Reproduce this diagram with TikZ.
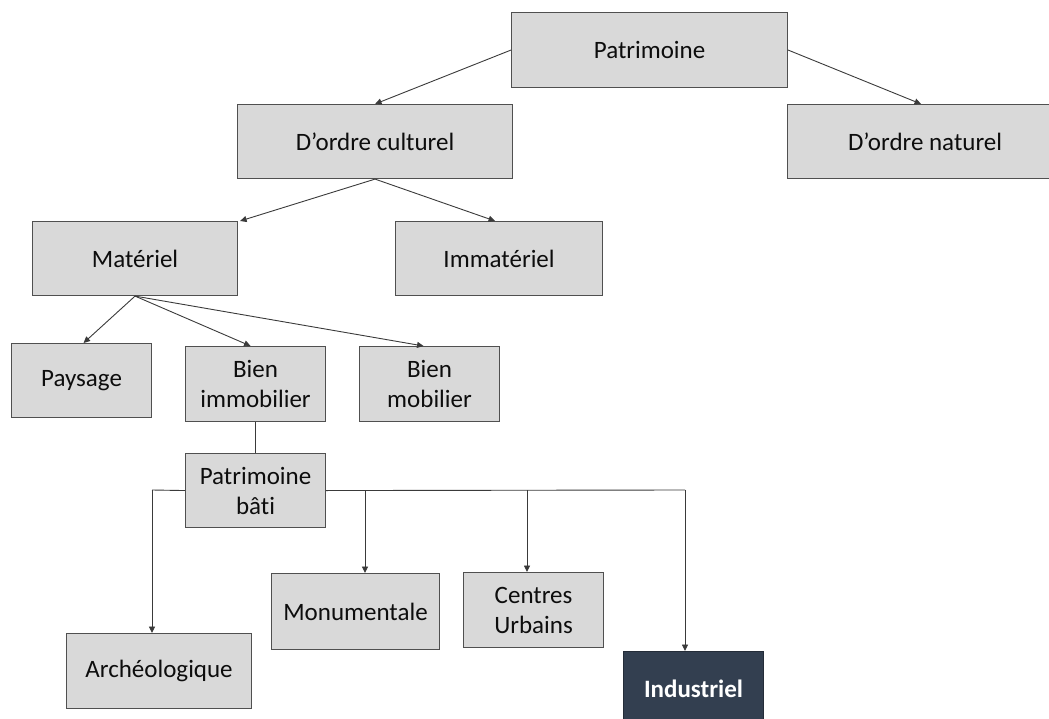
\documentclass[tikz,border=0pt]{standalone}
\usepackage{fontspec}
\setmainfont{Carlito}[Ligatures=NoCommon]
\usetikzlibrary{arrows.meta}
\definecolor{boxgray}{HTML}{D9D9D9}
\definecolor{boxline}{HTML}{505050}
\definecolor{darkbox}{HTML}{333F50}
\definecolor{wire}{HTML}{3A3A3A}
\begin{document}
\begin{tikzpicture}[x=1pt,y=-1pt,
  box/.style={draw=boxline, line width=1.1pt, fill=boxgray, inner sep=0pt,
    align=center, anchor=north west, text=black!95,
    font=\fontsize{25}{30}\selectfont},
  darkcell/.style={box, fill=darkbox, draw=darkbox!70!black, text=white,
    font=\fontsize{25}{30}\selectfont\bfseries},
  link/.style={draw=wire, line width=0.9pt},
  arr/.style={link, -{Triangle[width=6pt,length=6.5pt]}}]
\useasboundingbox (0,0) rectangle (1049,719);
\clip (0,0) rectangle (1049,719);

% top levels
\node[box, minimum width=276, minimum height=75] (pat) at (511,12) {Patrimoine};
\node[box, minimum width=275, minimum height=74] (cul) at (237,104) {D’ordre culturel};
\node[box, minimum width=275, minimum height=74] (nat) at (787,104) {D’ordre naturel};
\node[box, minimum width=205, minimum height=74] (mat) at (32,221) {Matériel};
\node[box, minimum width=207, minimum height=74] (imm) at (395,221) {Immatériel};

% material heritage
\node[box, minimum width=140, minimum height=74] (pay) at (11,343) {Paysage};
\node[box, minimum width=140, minimum height=75] (bim) at (185,346) {Bien\\immobilier};
\node[box, minimum width=140, minimum height=75] (bmo) at (359,346) {Bien\\mobilier};
\node[box, minimum width=140, minimum height=74] (bat) at (185,453) {Patrimoine\\bâti};

% built heritage categories
\node[box, minimum width=185, minimum height=75] (arc) at (66,633) {Archéologique};
\node[box, minimum width=168, minimum height=76] (mon) at (271,573) {Monumentale};
\node[box, minimum width=140, minimum height=75] (cen) at (463,572) {Centres\\Urbains};
\node[darkcell, minimum width=140, minimum height=75] (ind) at (623,651) {Industriel};

% tree connectors
\draw[arr] (pat.west) -- (cul.north);
\draw[arr] (pat.east) -- ([xshift=-4pt]nat.north);
\draw[arr] (cul.south) -- ([xshift=2pt]mat.north east);
\draw[arr] (cul.south) -- ([xshift=-4pt]imm.north);
\draw[arr] (mat.south) -- ([xshift=2pt]pay.north);
\draw[arr] (mat.south) -- ([xshift=-5pt]bim.north);
\draw[arr] (mat.south) -- ([xshift=-6pt]bmo.north);
\draw[link] (bim.south) -- (bat.north);

% bus from the built heritage box
\coordinate (b0) at (152,490);
\coordinate (b2) at (365,490);
\coordinate (b3) at (527,490);
\coordinate (b4) at (685,490);
\draw[link] (bat.west) -- (b0);
\draw[arr] (b0) -- (b0 |- arc.north);
\draw[link] (bat.east) -- (b4);
\draw[arr] (b2) -- (b2 |- mon.north);
\draw[arr] (b3) -- (b3 |- cen.north);
\draw[arr] (b4) -- (b4 |- ind.north);
\end{tikzpicture}
\end{document}
